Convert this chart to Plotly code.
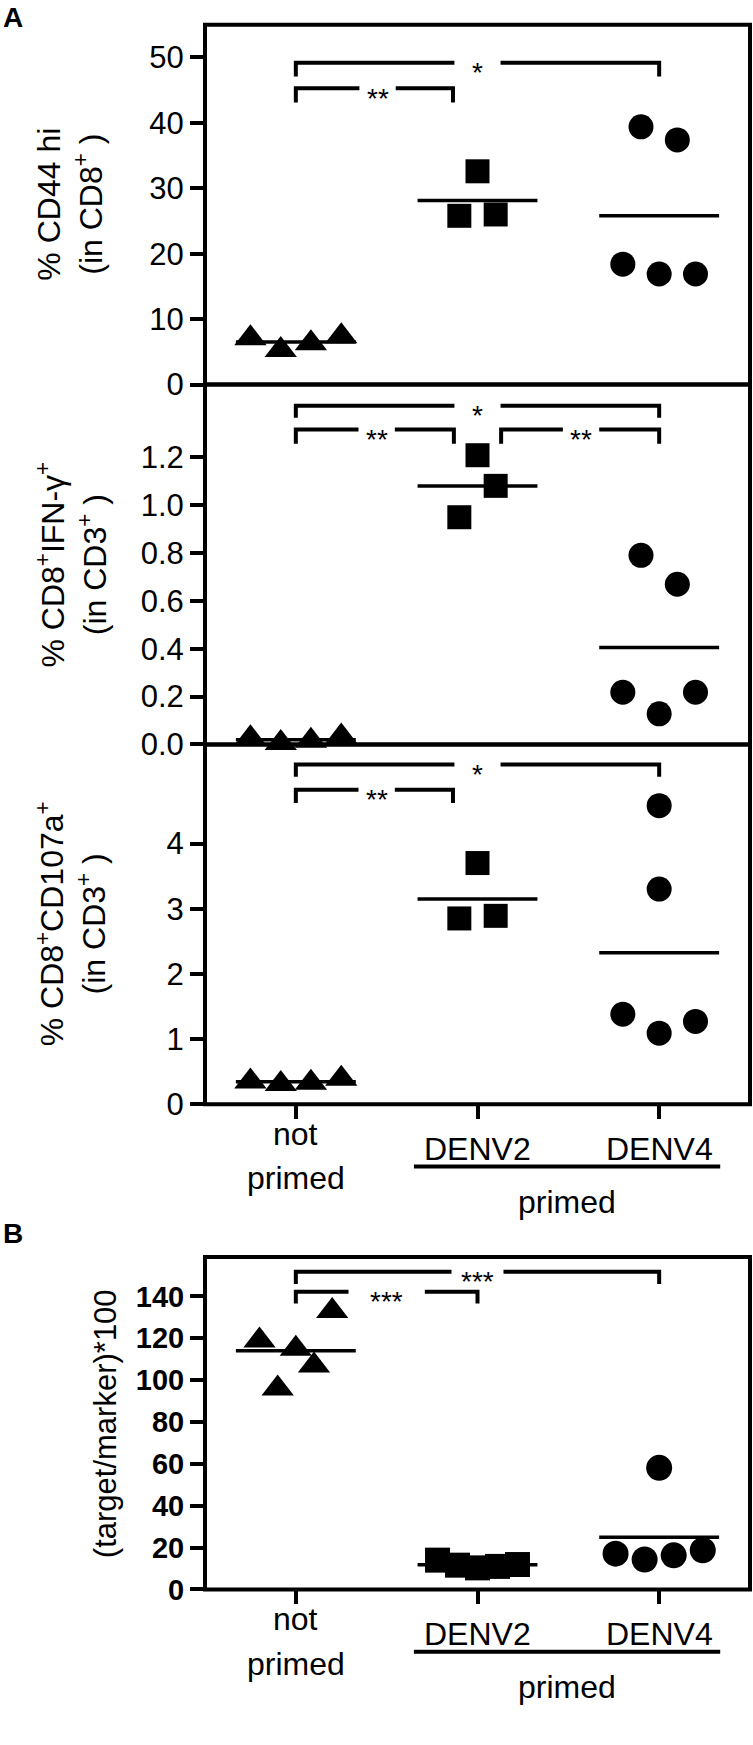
import numpy as np
import plotly.graph_objects as go

W, H = 753, 1745
FONT = "Liberation Sans, Arial, Helvetica, sans-serif"

# ---------------- data ----------------
categories = ["not<br>primed", "DENV2", "DENV4"]
group_label = "primed"

# Panel A (top): % CD44 hi (in CD8+)
cd44_not = [7.1, 5.3, 6.3, 7.4]
cd44_denv2 = [25.8, 32.6, 26.0]
cd44_denv4 = [39.4, 37.4, 18.4, 16.9, 16.9]

# Panel A (middle): % CD8+IFN-g+ (in CD3+)
ifng_not = [0.026, 0.006, 0.015, 0.033]
ifng_denv2 = [0.949, 1.208, 1.080]
ifng_denv4 = [0.790, 0.669, 0.218, 0.128, 0.218]

# Panel A (bottom): % CD8+CD107a+ (in CD3+)
cd107_not = [0.35, 0.31, 0.33, 0.39]
cd107_denv2 = [2.85, 3.70, 2.89]
cd107_denv4 = [4.58, 3.30, 1.38, 1.09, 1.27]

# Panel B: (target/marker)*100
kill_not = [119, 96, 115, 107, 133]
kill_denv2 = [14.0, 11.6, 10.3, 11.0, 11.9]
kill_denv4 = [17.1, 14.3, 16.3, 18.7, 58.1]

# ---------------- horizontal spread of the points inside each column ----------------
spread_A1 = [[-0.25, -0.083, 0.083, 0.25], [-0.1, 0, 0.1], [-0.1, 0.1, -0.2, 0, 0.2]]
spread_A2 = [[-0.25, -0.083, 0.083, 0.25], [-0.1, 0, 0.1], [-0.1, 0.1, -0.2, 0, 0.2]]
spread_A3 = [[-0.25, -0.083, 0.083, 0.25], [-0.1, 0, 0.1], [0, 0, -0.2, 0, 0.2]]
spread_B = [[-0.2, -0.1, 0, 0.1, 0.2], [-0.22, -0.11, 0, 0.11, 0.22], [-0.24, -0.08, 0.08, 0.24, 0]]

symbols = ["triangle-up", "square", "circle"]

TICK_FS = 31
TITLE_FS = 32

panels = [
    dict(ax="", groups=[cd44_not, cd44_denv2, cd44_denv4], spread=spread_A1,
         top=25, bottom=388.6, yrange=[0, 55], tickvals=[0, 10, 20, 30, 40, 50], fmt="d",
         title="% CD44 hi<br>(in CD8<sup>+</sup> )", tx=70, bold=False, msize=[28, 24, 25],
         brackets=[(0, 2, 49.2, 47.1, "*", 1.0, 0.127),
                   (0, 0.865, 45.3, 43.1, "**", 0.45, 0.1)]),
    dict(ax="2", groups=[ifng_not, ifng_denv2, ifng_denv4], spread=spread_A2,
         top=388.6, bottom=752.2, yrange=[0, 1.503], tickvals=[0, 0.2, 0.4, 0.6, 0.8, 1.0, 1.2], fmt=".1f",
         title="% CD8<sup>+</sup>IFN-γ<sup>+</sup><br>(in CD3<sup>+</sup> )", tx=71, bold=False, msize=[28, 24, 25],
         brackets=[(0, 2, 1.415, 1.364, "*", 1.0, 0.127),
                   (0, 0.87, 1.315, 1.256, "**", 0.445, 0.1),
                   (1.13, 2, 1.315, 1.256, "**", 1.57, 0.1)]),
    dict(ax="3", groups=[cd107_not, cd107_denv2, cd107_denv4], spread=spread_A3,
         top=752.2, bottom=1115.7, yrange=[0, 5.52], tickvals=[0, 1, 2, 3, 4], fmt="d",
         title="% CD8<sup>+</sup>CD107a<sup>+</sup><br>(in CD3<sup>+</sup> )", tx=71, bold=False, msize=[28, 24, 25],
         brackets=[(0, 2, 5.213, 5.026, "*", 1.0, 0.127),
                   (0, 0.865, 4.824, 4.62, "**", 0.445, 0.1)]),
    dict(ax="4", groups=[kill_not, kill_denv2, kill_denv4], spread=spread_B,
         top=1270, bottom=1606, yrange=[0, 158.9], tickvals=[0, 20, 40, 60, 80, 100, 120, 140], fmt="d",
         title="(target/marker)*100", tx=105, bold=True, msize=[28, 25, 26],
         brackets=[(0, 2, 151.8, 146.0, "***", 1.0, 0.143),
                   (0, 1, 142.3, 136.6, "***", 0.5, 0.21)]),
]

X_LEFT, X_RIGHT = 205, 750
xdom = [X_LEFT / W, X_RIGHT / W]
XR = [-0.5, 2.5]


def py(p):
    return 1 - p / H


fig = go.Figure()
shapes = []
annotations = []
layout = dict(
    width=W, height=H, autosize=False,
    margin=dict(l=0, r=0, t=0, b=0, pad=0),
    paper_bgcolor="white", plot_bgcolor="white",
    showlegend=False,
    font=dict(family=FONT, color="black", size=30),
)

for p in panels:
    a = p["ax"]
    xname, yname = "x" + a, "y" + a
    ydom = [py(p["bottom"]), py(p["top"])]
    has_xticks = a in ("3", "4")
    layout["xaxis" + a] = dict(
        domain=xdom, range=XR, anchor=yname, showgrid=False, zeroline=False,
        showline=False, tickvals=[0, 1, 2], showticklabels=False,
        ticks="outside" if has_xticks else "", ticklen=14, tickwidth=4, tickcolor="black",
        fixedrange=True,
    )
    ticktext = [format(v, p["fmt"]) if p["fmt"] != "d" else str(int(v)) for v in p["tickvals"]]
    layout["yaxis" + a] = dict(
        domain=ydom, range=p["yrange"], anchor=xname, showgrid=False, zeroline=False,
        showline=False, tickvals=p["tickvals"], ticktext=ticktext,
        ticks="outside", ticklen=14, tickwidth=4, tickcolor="black",
        tickfont=dict(family=FONT, size=29 if p["bold"] else TICK_FS, color="black",
                      weight="bold" if p["bold"] else "normal"),
        fixedrange=True,
    )
    # frame of the panel
    shapes.append(dict(type="rect", xref=xname + " domain", yref=yname + " domain",
                       x0=0, x1=1, y0=0, y1=1, line=dict(color="black", width=4),
                       fillcolor="rgba(0,0,0,0)", layer="above"))

    # mean lines + points
    for ci, (vals, offs) in enumerate(zip(p["groups"], p["spread"])):
        m = float(np.mean(vals))
        fig.add_trace(go.Scatter(
            x=[ci - 0.33, ci + 0.33], y=[m, m], mode="lines",
            line=dict(color="black", width=3.5), xaxis=xname, yaxis=yname,
            hoverinfo="skip", cliponaxis=False))
        fig.add_trace(go.Scatter(
            x=[ci + o for o in offs], y=vals, mode="markers",
            marker=dict(symbol=symbols[ci], size=p["msize"][ci], color="black",
                        line=dict(width=0)),
            xaxis=xname, yaxis=yname, cliponaxis=False))

    # significance brackets
    for (x0, x1, yh, yv, txt, tx, g) in p["brackets"]:
        path = (f"M {x0},{yv} L {x0},{yh} L {tx - g},{yh} "
                f"M {tx + g},{yh} L {x1},{yh} L {x1},{yv}")
        shapes.append(dict(type="path", path=path, xref=xname, yref=yname,
                           line=dict(color="black", width=4)))
        annotations.append(dict(text=txt, x=tx, y=yh, xref=xname, yref=yname,
                                showarrow=False, yshift=-10,
                                font=dict(family=FONT, size=28, color="black")))

    # y axis title
    annotations.append(dict(text=p["title"], x=p["tx"] / W, y=py((p["top"] + p["bottom"]) / 2),
                            xref="paper", yref="paper", textangle=-90, showarrow=False,
                            xanchor="center", yanchor="middle",
                            font=dict(family=FONT, size=31 if p["bold"] else TITLE_FS, color="black")))

# category labels and the "primed" group bar under panel A (bottom) and panel B
LAB_FS = 32
for xname, axis_px in (("x3", 1115.7), ("x4", 1606)):
    for ci, lab in enumerate(categories):
        lines = lab.split("<br>")
        offs = [45] if len(lines) == 1 else [30, 75]
        for line_txt, off in zip(lines, offs):
            annotations.append(dict(text=line_txt, x=ci, y=py(axis_px + off), xref=xname, yref="paper",
                                    showarrow=False, xanchor="center", yanchor="middle",
                                    font=dict(family=FONT, size=LAB_FS, color="black")))
    shapes.append(dict(type="line", x0=0.65, x1=2.336, y0=py(axis_px + 63), y1=py(axis_px + 63),
                       xref=xname, yref="paper", line=dict(color="black", width=4)))
    annotations.append(dict(text=group_label, x=1.49, y=py(axis_px + 99), xref=xname, yref="paper",
                            showarrow=False, xanchor="center", yanchor="middle",
                            font=dict(family=FONT, size=LAB_FS, color="black")))

# panel letters
annotations.append(dict(text="<b>A</b>", x=1 / W, y=py(18), xref="paper", yref="paper",
                        showarrow=False, xanchor="left", yanchor="middle",
                        font=dict(family=FONT, size=28, color="black")))
annotations.append(dict(text="<b>B</b>", x=1 / W, y=py(1246), xref="paper", yref="paper",
                        showarrow=False, xanchor="left", yanchor="middle",
                        font=dict(family=FONT, size=28, color="black")))

layout["shapes"] = shapes
layout["annotations"] = annotations
fig.update_layout(**layout)
fig.write_html("out.html", config={"displayModeBar": False},
               post_script="document.body.style.margin='0px';")
